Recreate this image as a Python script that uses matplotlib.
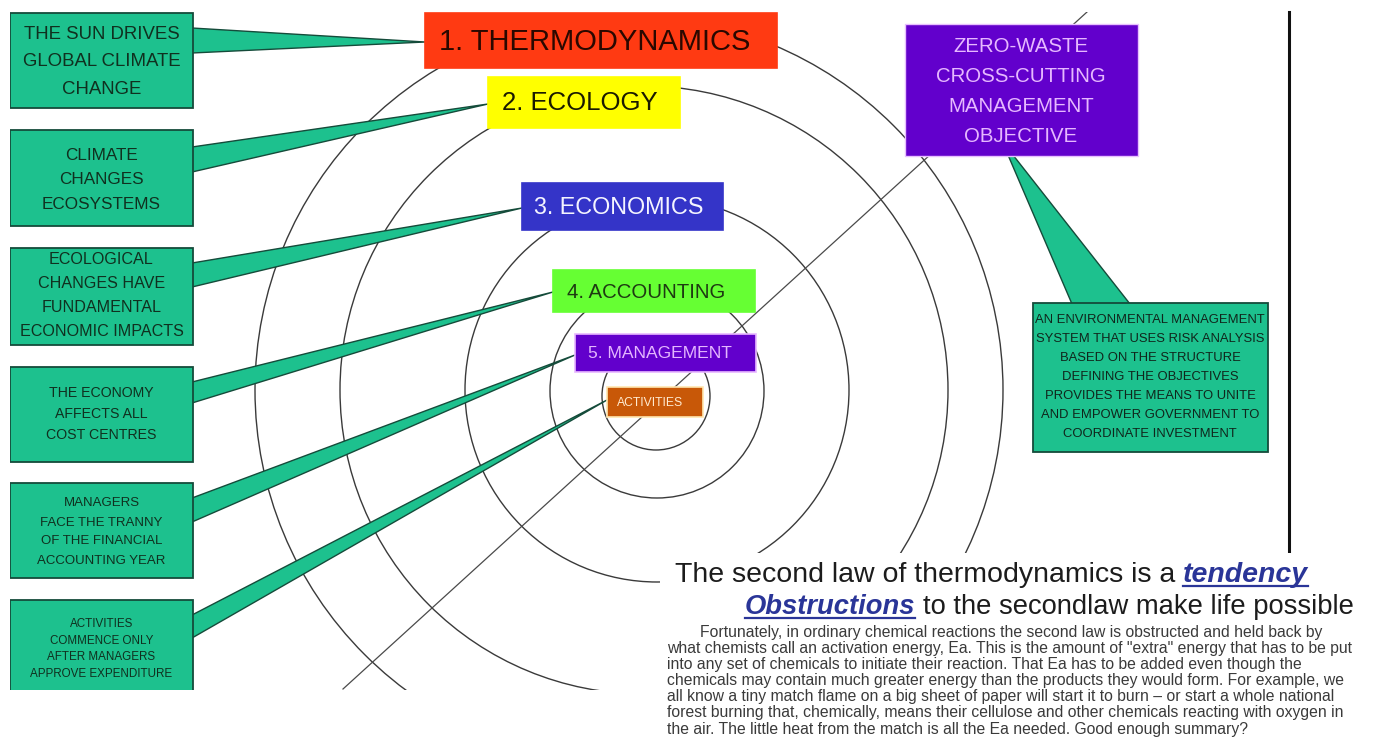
import matplotlib.pyplot as plt
from matplotlib.patches import Rectangle, Circle, Polygon

W, H = 1382, 752
NARROW = ['Liberation Sans Narrow', 'Liberation Sans', 'DejaVu Sans']
SANS = ['Liberation Sans', 'DejaVu Sans']

# ---- content ----
ring_labels = ["1. THERMODYNAMICS", "2. ECOLOGY", "3. ECONOMICS",
               "4. ACCOUNTING", "5. MANAGEMENT", "ACTIVITIES"]

callout_texts = [
    ["THE SUN DRIVES", "GLOBAL CLIMATE", "CHANGE"],
    ["CLIMATE", "CHANGES", "ECOSYSTEMS"],
    ["ECOLOGICAL", "CHANGES HAVE", "FUNDAMENTAL", "ECONOMIC IMPACTS"],
    ["THE ECONOMY", "AFFECTS ALL", "COST CENTRES"],
    ["MANAGERS", "FACE THE TRANNY", "OF THE FINANCIAL", "ACCOUNTING YEAR"],
    ["ACTIVITIES", "COMMENCE ONLY", "AFTER MANAGERS", "APPROVE EXPENDITURE"],
]

objective_text = ["ZERO-WASTE", "CROSS-CUTTING", "MANAGEMENT", "OBJECTIVE"]

ems_text = ["AN ENVIRONMENTAL MANAGEMENT", "SYSTEM THAT USES RISK ANALYSIS",
            "BASED ON THE STRUCTURE", "DEFINING THE OBJECTIVES",
            "PROVIDES THE MEANS TO UNITE", "AND EMPOWER GOVERNMENT TO",
            "COORDINATE INVESTMENT"]

title_line1 = [("The second law of thermodynamics is a", False), ("tendency", True)]
title_line2 = [("Obstructions", True), ("to the secondlaw make life possible", False)]

paragraph = [
    "Fortunately, in ordinary chemical reactions the second law is obstructed and held back by",
    "what chemists call an activation energy, Ea. This is the amount of \"extra\" energy that has to be put",
    "into any set of chemicals to initiate their reaction. That Ea has to be added even though the",
    "chemicals may contain much greater energy than the products they would form. For example, we",
    "all know a tiny match flame on a big sheet of paper will start it to burn \u2013 or start a whole national",
    "forest burning that, chemically, means their cellulose and other chemicals reacting with oxygen in",
    "the air. The little heat from the match is all the Ea needed. Good enough summary?",
]

# ---- layout (pixel coords, y down) ----
ring_boxes = [(425, 13, 777, 68), (488, 77, 680, 128), (522, 183, 723, 230),
              (553, 270, 755, 312), (575, 334, 756, 372), (607, 387, 703, 417)]
ring_fill = ['#FF3A12', '#FFFF00', '#3434C8', '#66FF33', '#6200CC', '#C85808']
ring_edge = ['#FF3A12', '#FFFF00', '#3434C8', '#66FF33', '#E8B8FF', '#FFE6B0']
ring_text_color = ['#2A0800', '#1A1A00', '#F4F4FF', '#1E3A12', '#E4B6FF', '#FFEAD0']
ring_text_x = [595, 580, 619, 646, 660, 650]
ring_font = [21, 18.5, 16.8, 14.7, 12.6, 8.7]

circles = [(656, 396, 54), (657, 391, 107), (657, 390, 192), (644, 390, 304), (629, 390, 374)]
cross_line = [(1087, 12), (343, 689)]

left_x0, left_x1 = 10, 193
left_boxes = [(13, 108), (130, 226), (248, 345), (367, 462), (483, 578), (600, 700)]
left_text_y = [62, 180, 296, 414, 532, 649]
left_pitch = [27.5, 24.5, 24, 21, 19, 16.7]
left_font = [13.4, 12.3, 11.6, 10.2, 9.5, 8.4]
wedge_base = [(28, 53), (147, 172), (263, 287), (382, 403), (498, 522), (615, 638)]
wedge_tip = [(425, 42), (488, 104), (522, 208), (553, 292), (575, 355), (607, 400)]

GREEN = '#1DC18E'
GREEN_EDGE = '#154B3A'

fig = plt.figure(figsize=(W / 100, H / 100), dpi=100)
ax = fig.add_axes([0, 0, 1, 1])
ax.set_xlim(0, W)
ax.set_ylim(H, 0)
ax.axis('off')

clip = Rectangle((10, 12), 1279, 678, transform=ax.transData)

# rings and the cross line
for cx, cy, r in circles:
    c = Circle((cx, cy), r, fill=False, ec='#3a3a3a', lw=1.0, zorder=1)
    ax.add_patch(c)
    c.set_clip_path(clip)
ln, = ax.plot([p[0] for p in cross_line], [p[1] for p in cross_line],
              color='#4a4a4a', lw=0.9, zorder=1)
ln.set_clip_path(clip)

# left callouts
for i, lines in enumerate(callout_texts):
    y0, y1 = left_boxes[i]
    b = Rectangle((left_x0, y0), left_x1 - left_x0, y1 - y0, fc=GREEN, ec=GREEN_EDGE,
                  lw=1.3, zorder=3)
    ax.add_patch(b)
    b.set_clip_path(clip)
    wb = wedge_base[i]
    w = Polygon([(left_x1 - 1, wb[0]), wedge_tip[i], (left_x1 - 1, wb[1])],
                closed=True, fc=GREEN, ec=GREEN_EDGE, lw=1.0, zorder=2)
    ax.add_patch(w)
    n = len(lines)
    for j, s in enumerate(lines):
        t = ax.text((left_x0 + left_x1) / 2, left_text_y[i] + (j - (n - 1) / 2) * left_pitch[i], s,
                    ha='center', va='center', fontsize=left_font[i], color='#10301F',
                    family=NARROW, zorder=4)
        t.set_clip_path(clip)

# ring label boxes
for i, lab in enumerate(ring_labels):
    x0, y0, x1, y1 = ring_boxes[i]
    ax.add_patch(Rectangle((x0, y0), x1 - x0, y1 - y0, fc=ring_fill[i], ec=ring_edge[i],
                           lw=1.2, zorder=3))
    ax.text(ring_text_x[i], (y0 + y1) / 2 + 1, lab, ha='center', va='center',
            fontsize=ring_font[i], color=ring_text_color[i], family=NARROW, zorder=4)

# objective box and its callout
ax.add_patch(Polygon([(1008, 155), (1013, 155), (1130, 304), (1072, 304)], closed=True,
                     fc=GREEN, ec=GREEN_EDGE, lw=1.0, zorder=2))
ax.add_patch(Rectangle((905, 24), 233, 132, fc='#6200CC', ec='#E8C0FF', lw=1.0, zorder=3))
for j, s in enumerate(objective_text):
    ax.text(1021, 46 + j * 30, s, ha='center', va='center', fontsize=14.7,
            color='#E6B8FF', family=NARROW, zorder=4)

ax.add_patch(Rectangle((1033, 303), 235, 149, fc=GREEN, ec=GREEN_EDGE, lw=1.3, zorder=3))
for j, s in enumerate(ems_text):
    ax.text(1150, 320 + j * 19, s, ha='center', va='center', fontsize=9.4,
            color='#10261C', family=NARROW, zorder=4)

# frame line on the right
ax.plot([1289, 1289], [12, 553], color='#111111', lw=2.2, zorder=3)

# text block at the bottom right
ax.add_patch(Rectangle((660, 553), W - 660, H - 553, fc='white', ec='none', zorder=5))
renderer = fig.canvas.get_renderer()


def put_runs(x, y, runs, size):
    for s, em in runs:
        if em:
            t = ax.text(x, y, s, ha='left', va='baseline', fontsize=size, color='#2A3598',
                        weight='bold', style='italic', family=SANS, zorder=6)
        else:
            t = ax.text(x, y, s, ha='left', va='baseline', fontsize=size, color='#1C1C1C',
                        family=SANS, zorder=6)
        wdt = t.get_window_extent(renderer).width
        if em:
            ax.plot([x, x + wdt], [y + 4, y + 4], color='#2A3598', lw=1.6, zorder=6)
        x += wdt + size * 0.39


put_runs(675, 582, title_line1, 20.5)
put_runs(745, 614, title_line2, 19.7)

for j, s in enumerate(paragraph):
    ax.text(700 if j == 0 else 667, 632 + j * 16.2, s, ha='left', va='center',
            fontsize=11.3, color='#3A3A3A', family=SANS, zorder=6)

fig.savefig('out.png', dpi=100, facecolor='white')
